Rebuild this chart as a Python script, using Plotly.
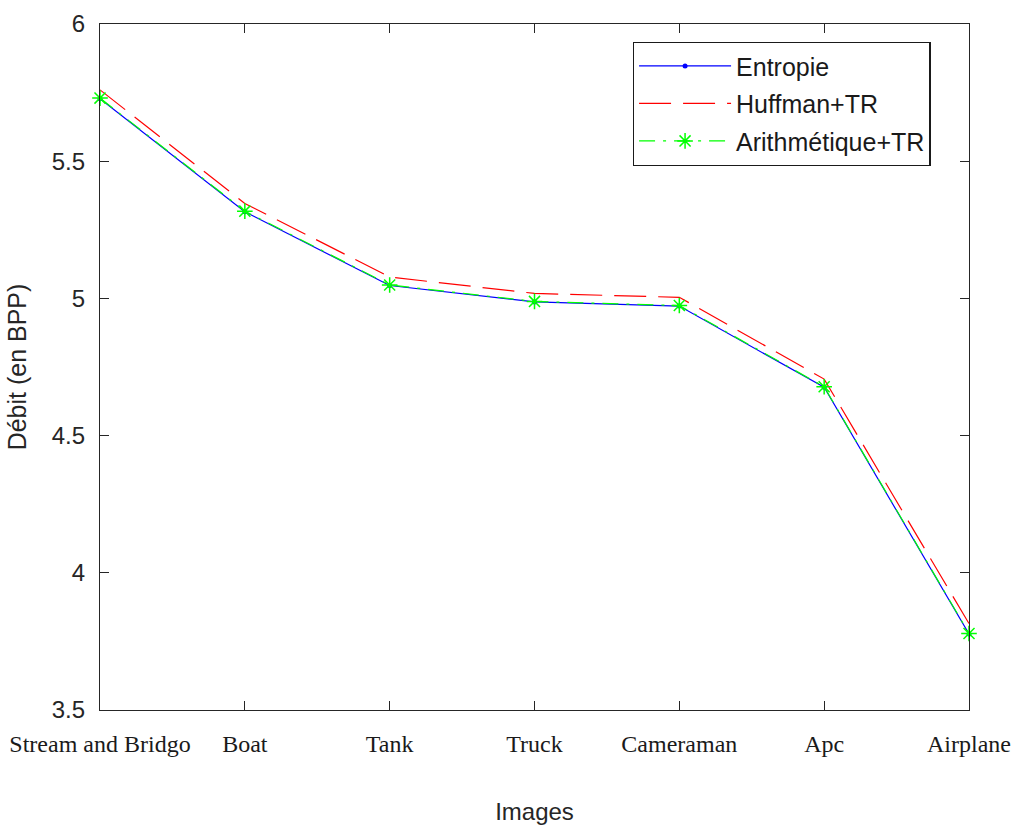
import plotly.graph_objects as go

images = ["Stream and Bridgo", "Boat", "Tank", "Truck", "Cameraman", "Apc", "Airplane"]
entropie = [5.728, 5.316, 5.047, 4.987, 4.972, 4.676, 3.777]
huffman_tr = [5.760, 5.346, 5.078, 5.018, 5.004, 4.706, 3.815]
arith_tr = [5.730, 5.318, 5.049, 4.989, 4.974, 4.678, 3.779]
y_ticks = [3.5, 4, 4.5, 5, 5.5, 6]
y_tick_text = ["3.5", "4", "4.5", "5", "5.5", "6"]

xpos = list(range(len(images)))

fig = go.Figure()
fig.add_trace(go.Scatter(
    x=xpos, y=entropie, name="Entropie", mode="lines+markers", legendgroup="a",
    line=dict(color="#0000ff", width=1.2),
    marker=dict(symbol="circle", size=5, color="#0000ff"),
    cliponaxis=False,
))
fig.add_trace(go.Scatter(
    x=xpos, y=huffman_tr, name="Huffman+TR", mode="lines", legendgroup="b",
    line=dict(color="#ff0000", width=1.2, dash="32px,12px"),
    cliponaxis=False,
))
fig.add_trace(go.Scatter(
    x=xpos, y=arith_tr, name="Arithmétique+TR", mode="lines+markers", legendgroup="c",
    line=dict(color="#00ff00", width=1.2, dash="16px,8px,3px,8px"),
    marker=dict(symbol="asterisk-open", size=13, color="#00ff00",
                line=dict(color="#00ff00", width=1.5)),
    cliponaxis=False,
))

axis_common = dict(
    showline=True, linecolor="#262626", linewidth=1.3, mirror="ticks",
    ticks="inside", ticklen=9, tickcolor="#262626", tickwidth=1.3,
    showgrid=False, zeroline=False, automargin=False,
)

fig.update_layout(
    width=1022, height=828,
    margin=dict(l=100, r=53, t=24, b=118),
    plot_bgcolor="white", paper_bgcolor="white",
    font=dict(family="Liberation Sans, Arial", size=23, color="#262626"),
    xaxis=dict(
        range=[0, len(images) - 1],
        tickmode="array", tickvals=xpos, ticktext=images,
        tickfont=dict(family="Liberation Serif, Times New Roman", size=24, color="#1a1a1a"),
        ticklabelstandoff=12,
        title=dict(text="Images", font=dict(size=24), standoff=47),
        **axis_common,
    ),
    yaxis=dict(
        range=[3.5, 6],
        tickmode="array", tickvals=y_ticks, ticktext=y_tick_text,
        tickfont=dict(size=24),
        ticklabelstandoff=9,
        title=dict(text="Débit (en BPP)", font=dict(size=25), standoff=17),
        **axis_common,
    ),
    legend=dict(
        x=0.956, y=0.974, xanchor="right", yanchor="top",
        bgcolor="white", bordercolor="#1a1a1a", borderwidth=1.3,
        font=dict(size=25, color="#1a1a1a"),
        itemwidth=92, tracegroupgap=2,
    ),
    showlegend=True,
)

fig.write_html("out.html")
